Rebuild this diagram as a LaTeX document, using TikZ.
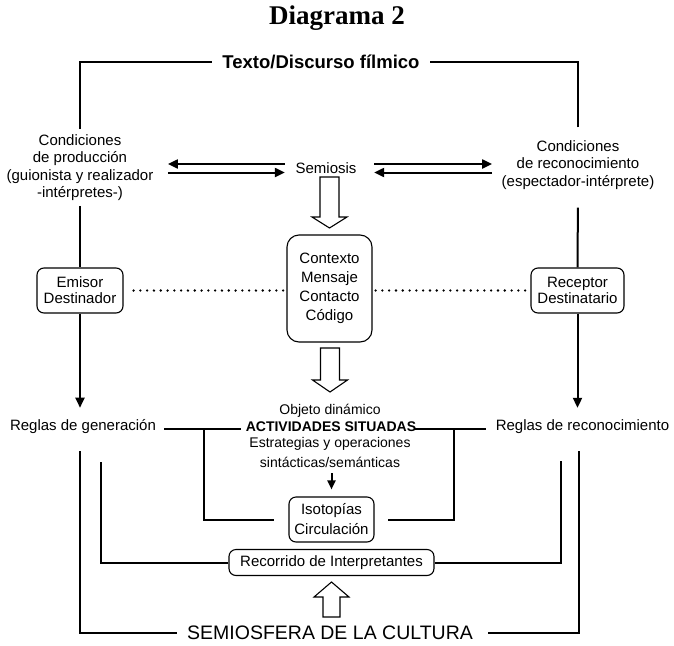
\documentclass[tikz,border=0pt]{standalone}
\usepackage{fontspec}
\setmainfont{Liberation Sans}
\newfontfamily\titlefont{Liberation Serif}
\usetikzlibrary{arrows.meta,calc}
\begin{document}
\begin{tikzpicture}[x=1pt,y=-1pt,
  lbl/.style={inner sep=0pt, align=center, font=\fontsize{15}{17.5}\selectfont},
  sml/.style={inner sep=0pt, align=center, font=\fontsize{14}{16}\selectfont},
  rbox/.style={draw, line width=1.1pt, rounded corners=7pt, align=center, inner sep=0pt},
  ln/.style={line width=2pt},
  arr/.style={ln, -{Triangle[length=10pt,width=9pt]}},
  hol/.style={draw, line width=1.1pt, line join=miter, fill=white},
  dots/.style={line width=2.6pt, line cap=round, dash pattern=on 0pt off 6.8pt},
]
\useasboundingbox (0,0) rectangle (674,645);

% texts
\node[inner sep=0pt, font={\titlefont\bfseries\fontsize{27}{30}\selectfont}] (title) at (337,18) {Diagrama 2};
\node[inner sep=0pt, inner xsep=10pt, font={\bfseries\fontsize{18.5}{20}\selectfont}] (texto) at (321,62) {Texto/Discurso fílmico};
\node[lbl, inner ysep=5pt] (cprod) at (80,167.5) {Condiciones\\de producción\\(guionista y realizador\\-intérpretes-)};
\node[lbl, inner ysep=5pt] (crec) at (578,165) {Condiciones\\de reconocimiento\\(espectador-intérprete)};
\node[lbl] (semi) at (326,168) {Semiosis};

\node[rbox, rounded corners=12pt, minimum width=85pt, minimum height=107pt, font=\fontsize{15}{19}\selectfont] (ctx) at (329.5,288.5) {Contexto\\Mensaje\\Contacto\\Código};
\node[rbox, minimum width=86pt, minimum height=45pt, font=\fontsize{15}{16}\selectfont] (emisor) at (80,290.5) {Emisor\\Destinador};
\node[rbox, minimum width=93pt, minimum height=45pt, font=\fontsize{15}{16}\selectfont] (receptor) at (577.5,290.5) {Receptor\\Destinatario};

\node[lbl] (rgen) at (83,427) {Reglas de generación};
\node[lbl] (rrec) at (582.5,427) {Reglas de reconocimiento};
\node[sml] (obj) at (330,411) {Objeto dinámico};
\node[sml, font=\bfseries\fontsize{14}{16}\selectfont] (act) at (331,426.7) {ACTIVIDADES SITUADAS};
\node[sml] (estr) at (330,444) {Estrategias y operaciones};
\node[sml] (sint) at (330,462) {sintácticas/semánticas};

\node[rbox, minimum width=85pt, minimum height=45pt, font=\fontsize{15}{20}\selectfont] (iso) at (331.5,519.5) {Isotopías\\Circulación};
\node[rbox, minimum width=205pt, minimum height=26pt, font=\fontsize{15}{17}\selectfont] (rec) at (331.5,562.5) {Recorrido de Interpretantes};
\node[inner sep=0pt, font=\fontsize{19.5}{20}\selectfont] (semio) at (330,633) {SEMIOSFERA DE LA CULTURA};

% top frame
\draw[ln] (cprod.north) |- (texto.west);
\draw[ln, shorten <=8pt] (crec.north) |- (texto.east);

% semiosis arrows
\draw[arr] ($(semi.west)+(-10.5,-4)$) -- ($(semi.west)+(-127.5,-4)$);
\draw[arr] ($(semi.west)+(-127.5,4.5)$) -- ($(semi.west)+(-10.5,4.5)$);
\draw[arr] ($(semi.east)+(17.5,-4)$) -- ($(semi.east)+(135.5,-4)$);
\draw[arr] ($(semi.east)+(135.5,4.5)$) -- ($(semi.east)+(17.5,4.5)$);

% hollow arrows
\draw[hol] (320,177) -- (339,177) -- (339,217) -- (347,217) -- (329.5,228) -- (312,217) -- (320,217) -- cycle;
\draw[hol] (320.5,348) -- (339.5,348) -- (339.5,380) -- (347.5,380) -- (330,392) -- (312.5,380) -- (320.5,380) -- cycle;
\draw[hol] (323,617) -- (340,617) -- (340,597) -- (349,597) -- (331.5,582) -- (314,597) -- (323,597) -- cycle;

% verticals
\draw[ln] (cprod.south) -- (emisor.north);
\draw[ln, shorten <=13pt] (crec.south) -- (receptor.north);
\draw[arr, shorten >=12pt] (emisor.south) -- (emisor.south |- rgen.north);
\draw[arr, shorten >=12pt] (receptor.south) -- (receptor.south |- rrec.north);

% dotted
\draw[dots, shorten <=10pt, shorten >=2pt] (emisor.east) -- (emisor.east -| ctx.west);
\draw[dots, shorten <=3pt, shorten >=4pt] (receptor.west -| ctx.east) -- (receptor.west);

% reglas lines
\draw[ln] ($(rgen.east)+(8,2.3)$) -- ($(act.west)+(-5,2.6)$);
\draw[ln] ($(act.east)+(-2,2.6)$) -- ($(rrec.west)+(-10,2.3)$);
\coordinate (jl) at (204,429.3);
\coordinate (jr) at (454,429.3);
\draw[ln] (jl) |- ($(iso.west)+(-14,0)$);
\draw[ln] (jr) |- ($(iso.east)+(13,0)$);
\draw[arr, -{Triangle[length=9pt,width=8pt]}, shorten <=6pt, shorten >=7pt] (iso.north |- sint.south) -- (iso.north);

% inner and outer frames
\coordinate (il) at (101,462);
\coordinate (ir) at (561,461);
\draw[ln] (il) |- (rec.west);
\draw[ln] (ir) |- (rec.east);
\coordinate (ol) at (80,451);
\coordinate (or) at (579,451);
\draw[ln] (ol) |- ($(semio.west)+(-10,0)$);
\draw[ln] (or) |- ($(semio.east)+(15,0)$);
\end{tikzpicture}
\end{document}
